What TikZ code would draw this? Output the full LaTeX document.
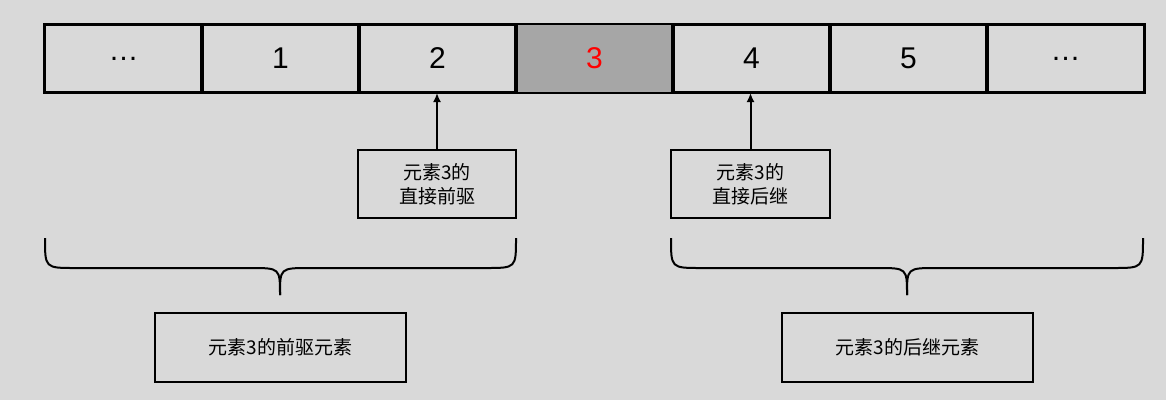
\documentclass[tikz,border=0pt]{standalone}
\usepackage{fontspec}
\usetikzlibrary{arrows.meta}
\setmainfont{Liberation Sans}
\newfontfamily\cjk{Noto Sans CJK SC}
\definecolor{bg}{HTML}{D9D9D9}
\definecolor{dark}{HTML}{A6A6A6}
\begin{document}
\begin{tikzpicture}[x=1pt,y=-1pt,
  cell/.style={draw=black,line width=2pt,minimum width=157pt,minimum height=67pt,inner sep=0pt,font=\fontsize{30}{30}\selectfont},
  lbl/.style={draw=black,line width=2pt,fill=bg,align=center,inner sep=0pt,font=\cjk\fontsize{19}{24}\selectfont},
  arr/.style={-{Latex[length=9pt,width=8pt]},line width=2pt},
  brace/.style={line width=2pt}]
\fill[bg] (0,0) rectangle (1166,400);
\useasboundingbox (0,0) rectangle (1166,400);
\foreach \t [count=\i] in {…,1,2,3,4,5,…}{
  \node[cell] (c\i) at ({45+157*(\i-0.5)},58.5) {\t};
}
\fill[dark] (c4.south west) rectangle (c4.north east);
\foreach \i in {1,...,7}{\draw[line width=2pt] (c\i.south west) rectangle (c\i.north east);}
\node[cell,draw=none,text=red] at (c4) {3};
\node[lbl,minimum width=158pt,minimum height=68pt] (p) at (437,184) {元素3的\\直接前驱};
\node[lbl,minimum width=159pt,minimum height=68pt] (s) at (750.5,184) {元素3的\\直接后继};
\draw[arr] (p.north) -- (p.north |- c3.south);
\draw[arr] (s.north) -- (s.north |- c5.south);
\draw[brace] (45,238) .. controls (45,268) .. (75,268) -- (250,268) .. controls (280,268) .. (280,295);
\draw[brace] (516,238) .. controls (516,268) .. (486,268) -- (310,268) .. controls (280,268) .. (280,295);
\draw[brace] (671,238) .. controls (671,268) .. (701,268) -- (877,268) .. controls (907,268) .. (907,295);
\draw[brace] (1143,238) .. controls (1143,268) .. (1113,268) -- (937,268) .. controls (907,268) .. (907,295);
\node[lbl,minimum width=251pt,minimum height=69pt] (lp) at (280.5,347.5) {元素3的前驱元素};
\node[lbl,minimum width=251pt,minimum height=69pt] (ls) at (907.5,347.5) {元素3的后继元素};
\end{tikzpicture}
\end{document}
